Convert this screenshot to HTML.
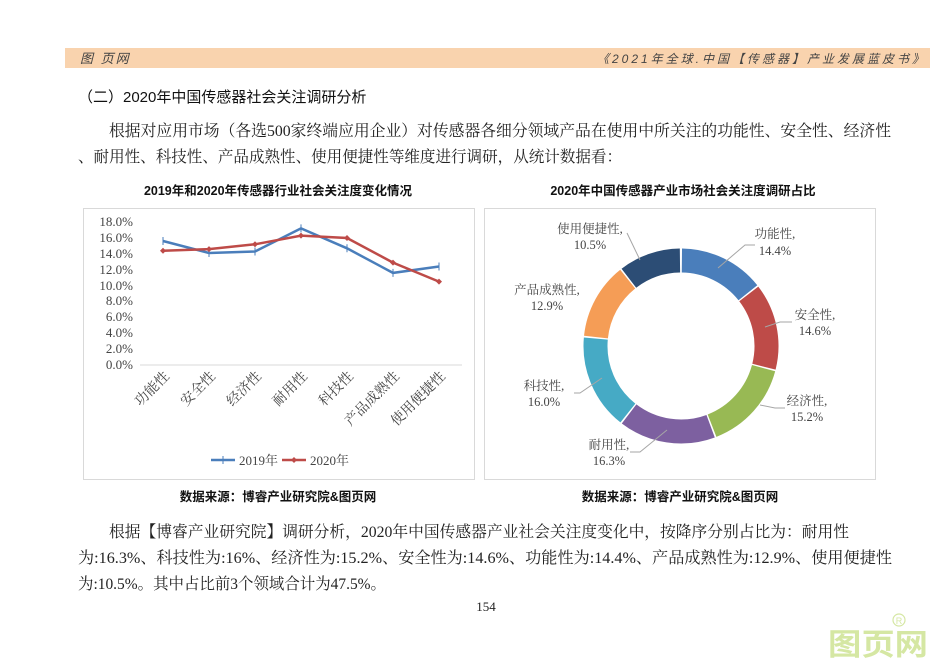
<!DOCTYPE html>
<html><head><meta charset="utf-8"><style>
html,body{margin:0;padding:0;background:#fff;}
svg{display:block;}
.serif{font-family:"Liberation Serif","Noto Serif CJK SC",serif;}
.sans{font-family:"Liberation Sans","Noto Sans CJK SC",sans-serif;}
</style></head><body>
<svg width="950" height="672" viewBox="0 0 950 672" xmlns="http://www.w3.org/2000/svg">
<rect width="950" height="672" fill="#fff"/>
<rect x="65" y="48" width="865" height="20" fill="#f9d3ae"/>
<text x="80" y="63" class="sans" font-size="13" font-style="italic" fill="#444" letter-spacing="2">图 页网</text>
<text x="927" y="63" class="sans" font-size="12" font-style="italic" fill="#444" text-anchor="end" letter-spacing="3">《2021年全球.中国【传感器】产业发展蓝皮书》</text>

<text x="78" y="102" class="sans" font-size="15" fill="#111">（二）2020年中国传感器社会关注调研分析</text>
<text x="109" y="136" class="serif" font-size="16" fill="#222" textLength="782" lengthAdjust="spacingAndGlyphs">根据对应用市场（各选500家终端应用企业）对传感器各细分领域产品在使用中所关注的功能性、安全性、经济性</text>
<text x="78" y="162" class="serif" font-size="16" fill="#222" textLength="544" lengthAdjust="spacingAndGlyphs">、耐用性、科技性、产品成熟性、使用便捷性等维度进行调研，从统计数据看：</text>

<text x="278" y="195" class="sans" font-size="12.5" font-weight="bold" fill="#111" text-anchor="middle">2019年和2020年传感器行业社会关注度变化情况</text>
<text x="683" y="195" class="sans" font-size="12.5" font-weight="bold" fill="#111" text-anchor="middle">2020年中国传感器产业市场社会关注度调研占比</text>

<rect x="83.5" y="208.5" width="391" height="271" fill="#fff" stroke="#d9d9d9"/>
<line x1="140" y1="365" x2="462" y2="365" stroke="#d9d9d9"/>
<g class="serif" font-size="13" fill="#444" text-anchor="end">
<text x="133" y="226">18.0%</text><text x="133" y="242">16.0%</text><text x="133" y="258">14.0%</text>
<text x="133" y="274">12.0%</text><text x="133" y="290">10.0%</text><text x="133" y="305">8.0%</text>
<text x="133" y="321">6.0%</text><text x="133" y="337">4.0%</text><text x="133" y="353">2.0%</text>
<text x="133" y="369">0.0%</text>
</g>
<g class="serif" font-size="14" fill="#444" text-anchor="end">
<text transform="translate(170,377) rotate(-45)">功能性</text>
<text transform="translate(216,377) rotate(-45)">安全性</text>
<text transform="translate(262,377) rotate(-45)">经济性</text>
<text transform="translate(308,377) rotate(-45)">耐用性</text>
<text transform="translate(354,377) rotate(-45)">科技性</text>
<text transform="translate(400,377) rotate(-45)">产品成熟性</text>
<text transform="translate(446,377) rotate(-45)">使用便捷性</text>
</g>
<polyline fill="none" stroke="#4a7ebb" stroke-width="2.5" points="163,241 209,253 255,251.5 301,228.4 347,248.3 393,272.9 439,266.5"/>
<g stroke="#4a7ebb" stroke-width="1">
<line x1="163" y1="237" x2="163" y2="245"/><line x1="209" y1="249" x2="209" y2="257"/><line x1="255" y1="247.5" x2="255" y2="255.5"/><line x1="301" y1="224.4" x2="301" y2="232.4"/><line x1="347" y1="244.3" x2="347" y2="252.3"/><line x1="393" y1="268.9" x2="393" y2="276.9"/><line x1="439" y1="262.5" x2="439" y2="270.5"/>
</g>
<polyline fill="none" stroke="#be4b48" stroke-width="2.5" points="163,250.7 209,249.1 255,244.3 301,235.6 347,238 393,262.6 439,281.6"/>
<g fill="#be4b48">
<path d="M163 247.7l3 3-3 3-3-3z"/><path d="M209 246.1l3 3-3 3-3-3z"/><path d="M255 241.3l3 3-3 3-3-3z"/><path d="M301 232.6l3 3-3 3-3-3z"/><path d="M347 235l3 3-3 3-3-3z"/><path d="M393 259.6l3 3-3 3-3-3z"/><path d="M439 278.6l3 3-3 3-3-3z"/>
</g>
<line x1="211" y1="460" x2="235" y2="460" stroke="#4a7ebb" stroke-width="2.5"/>
<line x1="223" y1="456" x2="223" y2="464" stroke="#4a7ebb"/>
<text x="239" y="465" class="serif" font-size="13" fill="#444">2019年</text>
<line x1="282" y1="460" x2="306" y2="460" stroke="#be4b48" stroke-width="2.5"/>
<path d="M294 457l3 3-3 3-3-3z" fill="#be4b48"/>
<text x="310" y="465" class="serif" font-size="13" fill="#444">2020年</text>

<rect x="484.5" y="208.5" width="391" height="271" fill="#fff" stroke="#d9d9d9"/>
<g fill="none" stroke-width="24" transform="translate(681,346)">
<circle r="85.5" stroke="#4a7ebb" stroke-dasharray="75.9 600" transform="rotate(-89.4)"/>
<circle r="85.5" stroke="#be4b48" stroke-dasharray="76.9 600" transform="rotate(-37.56)"/>
<circle r="85.5" stroke="#98b954" stroke-dasharray="80.1 600" transform="rotate(15)"/>
<circle r="85.5" stroke="#7d60a0" stroke-dasharray="86 600" transform="rotate(69.72)"/>
<circle r="85.5" stroke="#46aac5" stroke-dasharray="84.4 600" transform="rotate(128.4)"/>
<circle r="85.5" stroke="#f59d56" stroke-dasharray="67.8 600" transform="rotate(186)"/>
<circle r="85.5" stroke="#2c4d75" stroke-dasharray="55 600" transform="rotate(232.44)"/>
</g>
<g stroke="#a6a6a6" stroke-width="1" fill="none">
<polyline points="718,268 745,245 755,245"/>
<polyline points="765,327 780,322 792,322"/>
<polyline points="760,405 775,408 785,408"/>
<polyline points="667,430 640,452 630,452"/>
<polyline points="602,378 580,393 574,393"/>
<polyline points="627,233 640,260"/>
</g>
<g class="serif" font-size="12.5" fill="#444" text-anchor="middle">
<text x="590" y="233">使用便捷性,</text><text x="590" y="249">10.5%</text>
<text x="775" y="238">功能性,</text><text x="775" y="255">14.4%</text>
<text x="815" y="319">安全性,</text><text x="815" y="335">14.6%</text>
<text x="807" y="405">经济性,</text><text x="807" y="421">15.2%</text>
<text x="609" y="449">耐用性,</text><text x="609" y="465">16.3%</text>
<text x="544" y="390">科技性,</text><text x="544" y="406">16.0%</text>
<text x="547" y="294">产品成熟性,</text><text x="547" y="310">12.9%</text>
</g>

<text x="278" y="501" class="sans" font-size="12.5" font-weight="bold" fill="#111" text-anchor="middle">数据来源：博睿产业研究院&amp;图页网</text>
<text x="680" y="501" class="sans" font-size="12.5" font-weight="bold" fill="#111" text-anchor="middle">数据来源：博睿产业研究院&amp;图页网</text>

<text x="109" y="537" class="serif" font-size="16" fill="#222" textLength="740" lengthAdjust="spacingAndGlyphs">根据【博睿产业研究院】调研分析，2020年中国传感器产业社会关注度变化中，按降序分别占比为：耐用性</text>
<text x="78" y="563" class="serif" font-size="16" fill="#222" textLength="814" lengthAdjust="spacingAndGlyphs">为:16.3%、科技性为:16%、经济性为:15.2%、安全性为:14.6%、功能性为:14.4%、产品成熟性为:12.9%、使用便捷性</text>
<text x="78" y="589" class="serif" font-size="16" fill="#222" textLength="308" lengthAdjust="spacingAndGlyphs">为:10.5%。其中占比前3个领域合计为47.5%。</text>
<text x="486" y="611" class="serif" font-size="13" fill="#222" text-anchor="middle">154</text>

<text x="828" y="655" class="sans" font-size="30" font-weight="bold" fill="#d5e7a3" textLength="100" lengthAdjust="spacingAndGlyphs">图页网</text>
<circle cx="899" cy="620" r="6" fill="none" stroke="#d5e7a3" stroke-width="1.2"/>
<text x="899" y="624" class="sans" font-size="9" fill="#d5e7a3" text-anchor="middle">R</text>
</svg>
</body></html>
